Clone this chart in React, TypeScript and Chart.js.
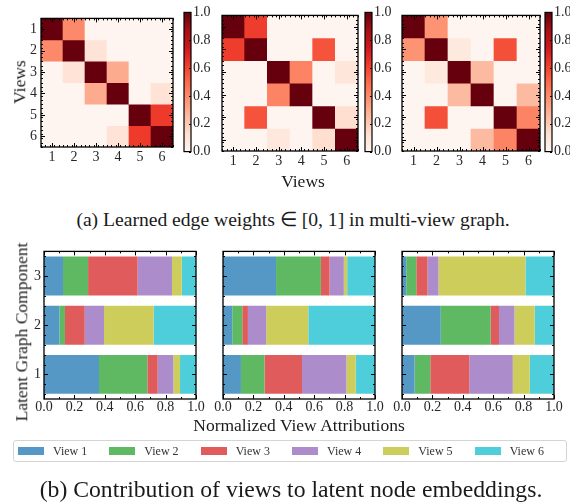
import React, { useEffect, useRef } from 'react';
import { Chart, registerables } from 'chart.js';

Chart.register(...registerables);

// ---------------- data ----------------
const VIEW_LABELS = ['1', '2', '3', '4', '5', '6'];
const COMPONENTS = ['1', '2', '3'];
const SERIES_NAMES = ['View 1', 'View 2', 'View 3', 'View 4', 'View 5', 'View 6'];
const SERIES_COLORS = ['#5598c6', '#5fb862', '#e05c5c', '#ad8ccb', '#cdcd5b', '#4ecdda'];
const COLORBAR_TICKS = [0, 0.2, 0.4, 0.6, 0.8, 1.0];
const ATTR_TICKS = [0, 0.2, 0.4, 0.6, 0.8, 1.0];
const COLORBAR_MAX = 1;

// Learned edge weights (rows = views 1..6, columns = views 1..6)
const EDGE_WEIGHTS_LEFT = [
  [1.0, 0.4, 0.0, 0.0, 0.0, 0.0],
  [0.4, 1.0, 0.11, 0.0, 0.0, 0.0],
  [0.0, 0.11, 1.0, 0.3, 0.0, 0.0],
  [0.0, 0.0, 0.3, 1.0, 0.0, 0.11],
  [0.0, 0.0, 0.0, 0.0, 1.0, 0.63],
  [0.0, 0.0, 0.0, 0.11, 0.63, 1.0],
];
const EDGE_WEIGHTS_MID = [
  [1.0, 0.62, 0.0, 0.0, 0.0, 0.0],
  [0.62, 1.0, 0.0, 0.0, 0.56, 0.0],
  [0.0, 0.0, 1.0, 0.42, 0.0, 0.09],
  [0.0, 0.0, 0.42, 1.0, 0.0, 0.0],
  [0.0, 0.56, 0.0, 0.0, 1.0, 0.13],
  [0.0, 0.0, 0.08, 0.0, 0.13, 1.0],
];
const EDGE_WEIGHTS_RIGHT = [
  [1.0, 0.37, 0.0, 0.0, 0.0, 0.0],
  [0.37, 1.0, 0.07, 0.0, 0.57, 0.0],
  [0.0, 0.07, 1.0, 0.25, 0.0, 0.0],
  [0.0, 0.0, 0.25, 1.0, 0.0, 0.25],
  [0.0, 0.57, 0.0, 0.0, 1.0, 0.42],
  [0.0, 0.0, 0.0, 0.25, 0.42, 1.0],
];

// Normalized view attributions: rows = views 1..6, columns = latent components 1..3
const ATTR_LEFT = [
  [0.362, 0.101, 0.125],
  [0.318, 0.037, 0.165],
  [0.068, 0.130, 0.326],
  [0.103, 0.127, 0.226],
  [0.044, 0.326, 0.064],
  [0.105, 0.279, 0.094],
];
const ATTR_MID = [
  [0.118, 0.061, 0.349],
  [0.155, 0.066, 0.295],
  [0.247, 0.037, 0.057],
  [0.292, 0.120, 0.094],
  [0.061, 0.277, 0.022],
  [0.127, 0.439, 0.183],
];
const ATTR_RIGHT = [
  [0.083, 0.255, 0.028],
  [0.103, 0.328, 0.066],
  [0.257, 0.055, 0.074],
  [0.286, 0.102, 0.072],
  [0.111, 0.133, 0.572],
  [0.160, 0.127, 0.188],
];

// ---------------- styling helpers ----------------
const SERIF = '"Liberation Serif", "Times New Roman", serif';
const TICK_COLOR = '#262626';

const REDS_STOPS: [number, string][] = [
  [0, '#fff5f0'], [0.125, '#fee0d2'], [0.25, '#fcbba1'], [0.375, '#fc9272'],
  [0.5, '#fb6a4a'], [0.625, '#ef3b2c'], [0.75, '#cb181d'], [0.875, '#a50f15'], [1, '#67000d'],
];
function hexRgb(h: string) {
  return [parseInt(h.slice(1, 3), 16), parseInt(h.slice(3, 5), 16), parseInt(h.slice(5, 7), 16)];
}
function reds(v: number) {
  const t = Math.max(0, Math.min(1, v));
  for (let i = 1; i < REDS_STOPS.length; i++) {
    const [t1, c1] = REDS_STOPS[i];
    const [t0, c0] = REDS_STOPS[i - 1];
    if (t <= t1) {
      const f = (t - t0) / (t1 - t0);
      const a = hexRgb(c0), b = hexRgb(c1);
      const c = a.map((x, k) => Math.round(x + (b[k] - x) * f));
      return `rgb(${c[0]},${c[1]},${c[2]})`;
    }
  }
  return REDS_STOPS[REDS_STOPS.length - 1][1];
}

const frameTicks = {
  id: 'frameTicks',
  afterDatasetsDraw(chart: any, _args: any, opts: any) {
    if (!opts || !opts.enabled) return;
    const { ctx, chartArea: a, scales } = chart;
    ctx.save();
    ctx.strokeStyle = '#000';
    ctx.lineWidth = 1;
    const L = opts.len ?? 4;
    const M = opts.minorLen ?? 2;
    const line = (x0: number, y0: number, x1: number, y1: number) => {
      ctx.beginPath(); ctx.moveTo(x0, y0); ctx.lineTo(x1, y1); ctx.stroke();
    };
    const doAxis = (id: string, spec: any) => {
      const s = scales[id];
      if (!s || !spec) return;
      const horiz = s.isHorizontal();
      const sides = spec.sides || 'both';
      const draw = (v: number, len: number) => {
        const p = Math.round(s.getPixelForValue(v)) + 0.5;
        if (horiz) {
          if (sides !== 'far') line(p, a.bottom, p, a.bottom - len);
          if (sides !== 'near') line(p, a.top, p, a.top + len);
        } else {
          if (sides !== 'far') line(a.left, p, a.left + len, p);
          if (sides !== 'near') line(a.right, p, a.right - len, p);
        }
      };
      if (spec.major) s.ticks.forEach((t: any) => draw(t.value, L));
      if (spec.minor) {
        const [f, t, st] = spec.minor;
        for (let v = f; v <= t + 1e-9; v += st) draw(v, M);
      }
    };
    doAxis('x', opts.x);
    doAxis('y', opts.y);
    ctx.lineWidth = opts.frameWidth ?? 1.3;
    ctx.strokeRect(a.left, a.top, a.right - a.left, a.bottom - a.top);
    ctx.restore();
  },
};
Chart.register(frameTicks);

type Box = { left: number; top: number; width: number; height: number };

function ChartCanvas({ box, makeConfig }: { box: Box; makeConfig: () => any }) {
  const ref = useRef<HTMLCanvasElement>(null);
  useEffect(() => {
    const chart = new Chart(ref.current as HTMLCanvasElement, makeConfig());
    return () => chart.destroy();
  }, []);
  return (
    <div style={{ position: 'absolute', left: box.left, top: box.top, width: box.width, height: box.height }}>
      <canvas ref={ref} width={box.width} height={box.height} style={{ width: box.width, height: box.height, display: 'block' }} />
    </div>
  );
}

const noGrid = { display: false, drawTicks: false };
const noBorder = { display: false };
const tickFont = { family: SERIF, size: 14 };

// ---------- heatmap ----------
const HM = { padL: 6, yW: 30, padT: 10, padR: 6, xH: 24, padB: 4 };
function heatmapBox(x0: number, y0: number, x1: number, y1: number): Box {
  return {
    left: x0 - HM.padL - HM.yW,
    top: y0 - HM.padT,
    width: HM.padL + HM.yW + (x1 - x0) + HM.padR,
    height: HM.padT + (y1 - y0) + HM.xH + HM.padB,
  };
}
function heatmapConfig(matrix: number[][], showY: boolean) {
  return () => ({
    type: 'bar',
    data: {
      labels: VIEW_LABELS,
      datasets: matrix.map((row, i) => ({
        label: 'Row ' + VIEW_LABELS[i],
        data: row.map(() => 1),
        backgroundColor: row.map((v) => reds(v)),
        borderWidth: 0,
        barPercentage: 1,
        categoryPercentage: 1,
      })),
    },
    options: {
      responsive: false,
      animation: false,
      layout: { padding: { left: HM.padL, right: HM.padR, top: HM.padT, bottom: HM.padB } },
      plugins: {
        legend: { display: false },
        tooltip: { enabled: false },
        frameTicks: {
          enabled: true,
          x: { major: true, minor: [-0.5, 5.5, 0.2] },
          y: { major: true, minor: [0, 6, 0.2] },
        },
      },
      scales: {
        x: {
          stacked: true,
          grid: noGrid,
          border: noBorder,
          ticks: { font: tickFont, color: TICK_COLOR, padding: 2 },
          afterFit: (s: any) => { s.height = HM.xH; },
        },
        y: {
          type: 'linear',
          stacked: true,
          min: 0,
          max: VIEW_LABELS.length,
          reverse: true,
          grid: noGrid,
          border: noBorder,
          afterBuildTicks: (s: any) => { s.ticks = VIEW_LABELS.map((_, i) => ({ value: i + 0.5 })); },
          ticks: {
            font: tickFont,
            color: TICK_COLOR,
            padding: 4,
            callback: (v: number) => (showY ? VIEW_LABELS[Math.round(v - 0.5)] : ''),
          },
          afterFit: (s: any) => { s.width = HM.yW; },
        },
      },
    },
  });
}

// ---------- colorbar ----------
const CB = { padL: 4, yW: 30, padT: 10, padR: 4, padB: 10 };
function colorbarBox(x0: number, y0: number, x1: number, y1: number): Box {
  return {
    left: x0 - CB.padL,
    top: y0 - CB.padT,
    width: CB.padL + (x1 - x0) + CB.yW + CB.padR,
    height: CB.padT + (y1 - y0) + CB.padB,
  };
}
function colorbarConfig() {
  return () => ({
    type: 'bar',
    data: {
      labels: ['colorbar'],
      datasets: [{
        data: [COLORBAR_MAX],
        backgroundColor: (c: any) => {
          const ch = c.chart;
          const a = ch.chartArea;
          if (!a) return '#fff';
          const g = ch.ctx.createLinearGradient(0, a.bottom, 0, a.top);
          REDS_STOPS.forEach(([t, col]) => g.addColorStop(t, col));
          return g;
        },
        borderWidth: 0,
        barPercentage: 1,
        categoryPercentage: 1,
      }],
    },
    options: {
      responsive: false,
      animation: false,
      layout: { padding: { left: CB.padL, right: CB.padR, top: CB.padT, bottom: CB.padB } },
      plugins: {
        legend: { display: false },
        tooltip: { enabled: false },
        frameTicks: { enabled: true, len: 2, y: { major: true, sides: 'far' }, frameWidth: 1.2 },
      },
      scales: {
        x: { display: false },
        y: {
          position: 'right',
          min: 0,
          max: COLORBAR_MAX,
          grid: noGrid,
          border: noBorder,
          afterBuildTicks: (s: any) => { s.ticks = COLORBAR_TICKS.map((v) => ({ value: v })); },
          ticks: { font: tickFont, color: TICK_COLOR, padding: 2, callback: (v: number) => v.toFixed(1) },
          afterFit: (s: any) => { s.width = CB.yW; },
        },
      },
    },
  });
}

// ---------- attribution bars ----------
const BR = { padL: 12, yW: 30, padT: 8, padR: 12, xH: 22, padB: 4 };
function barBox(x0: number, y0: number, x1: number, y1: number): Box {
  return {
    left: x0 - BR.padL - BR.yW,
    top: y0 - BR.padT,
    width: BR.padL + BR.yW + (x1 - x0) + BR.padR,
    height: BR.padT + (y1 - y0) + BR.xH + BR.padB,
  };
}
function barConfig(attr: number[][], showY: boolean) {
  return () => ({
    type: 'bar',
    data: {
      labels: COMPONENTS,
      datasets: SERIES_NAMES.map((name, i) => ({
        label: name,
        data: attr[i],
        backgroundColor: SERIES_COLORS[i],
        borderWidth: 0,
        barPercentage: 0.79,
        categoryPercentage: 1,
      })),
    },
    options: {
      indexAxis: 'y',
      responsive: false,
      animation: false,
      layout: { padding: { left: BR.padL, right: BR.padR, top: BR.padT, bottom: BR.padB } },
      plugins: {
        legend: { display: false },
        tooltip: { enabled: false },
        frameTicks: {
          enabled: true,
          x: { major: true, minor: [0, 1, 0.1] },
          y: { major: true, minor: [-0.4, 2.4, 0.2] },
        },
      },
      scales: {
        x: {
          stacked: true,
          min: 0,
          max: 1,
          grid: noGrid,
          border: noBorder,
          afterBuildTicks: (s: any) => { s.ticks = ATTR_TICKS.map((v) => ({ value: v })); },
          ticks: { font: tickFont, color: TICK_COLOR, padding: 0, callback: (v: number) => v.toFixed(1) },
          afterFit: (s: any) => { s.height = BR.xH; },
        },
        y: {
          stacked: true,
          reverse: true,
          grid: noGrid,
          border: noBorder,
          ticks: {
            font: tickFont,
            color: TICK_COLOR,
            padding: 3,
            callback: (_v: number, i: number) => (showY ? COMPONENTS[i] : ''),
          },
          afterFit: (s: any) => { s.width = BR.yW; },
        },
      },
    },
  });
}

function Text({ x, y, size, children, rotate = 0, color = '#1a1a1a' }: any) {
  return (
    <div
      style={{
        position: 'absolute', left: x, top: y, whiteSpace: 'nowrap', fontFamily: SERIF,
        fontSize: size, lineHeight: 1, color,
        transform: `translate(-50%, -50%) rotate(${rotate}deg)`,
      }}
    >
      {children}
    </div>
  );
}

export default function App() {
  return (
    <div style={{ position: 'absolute', left: 0, top: 0, width: 570, height: 502, background: '#fff', overflow: 'hidden' }}>
      {/* (a) heatmaps */}
      <ChartCanvas box={heatmapBox(41, 16, 173, 147)} makeConfig={heatmapConfig(EDGE_WEIGHTS_LEFT, true)} />
      <ChartCanvas box={colorbarBox(184, 12, 191, 152)} makeConfig={colorbarConfig()} />
      <ChartCanvas box={heatmapBox(222, 13, 358, 151)} makeConfig={heatmapConfig(EDGE_WEIGHTS_MID, false)} />
      <ChartCanvas box={colorbarBox(365, 12, 372, 152)} makeConfig={colorbarConfig()} />
      <ChartCanvas box={heatmapBox(402, 13, 540, 151)} makeConfig={heatmapConfig(EDGE_WEIGHTS_RIGHT, false)} />
      <ChartCanvas box={colorbarBox(545, 12, 552, 152)} makeConfig={colorbarConfig()} />
      <Text x={20} y={82} size={17.5} rotate={-90}>Views</Text>
      <Text x={303} y={182} size={17.5}>Views</Text>
      <Text x={293} y={220} size={19.6}>(a) Learned edge weights ∈ [0, 1] in multi-view graph.</Text>

      {/* (b) attributions */}
      <ChartCanvas box={barBox(44, 248, 196, 399)} makeConfig={barConfig(ATTR_LEFT, true)} />
      <ChartCanvas box={barBox(223, 248, 375, 399)} makeConfig={barConfig(ATTR_MID, false)} />
      <ChartCanvas box={barBox(402, 248, 554, 399)} makeConfig={barConfig(ATTR_RIGHT, false)} />
      <Text x={22} y={332} size={17.5} rotate={-90}>Latent Graph Component</Text>
      <Text x={299} y={426} size={17.5}>Normalized View Attributions</Text>

      <div
        style={{
          position: 'absolute', left: 13, top: 440, width: 554, height: 22, boxSizing: 'border-box',
          border: '1px solid #d4d4d4', borderRadius: 3, display: 'flex', alignItems: 'center', paddingLeft: 4,
        }}
      >
        {SERIES_NAMES.map((name, i) => (
          <div key={name} style={{ width: 95.5, display: 'flex', alignItems: 'center' }}>
            <div style={{ width: 26, height: 8, background: SERIES_COLORS[i], marginRight: 9 }} />
            <span style={{ fontFamily: SERIF, fontSize: 12, color: '#333' }}>{name}</span>
          </div>
        ))}
      </div>
      <Text x={291} y={490} size={23.7}>(b) Contribution of views to latent node embeddings.</Text>
    </div>
  );
}
